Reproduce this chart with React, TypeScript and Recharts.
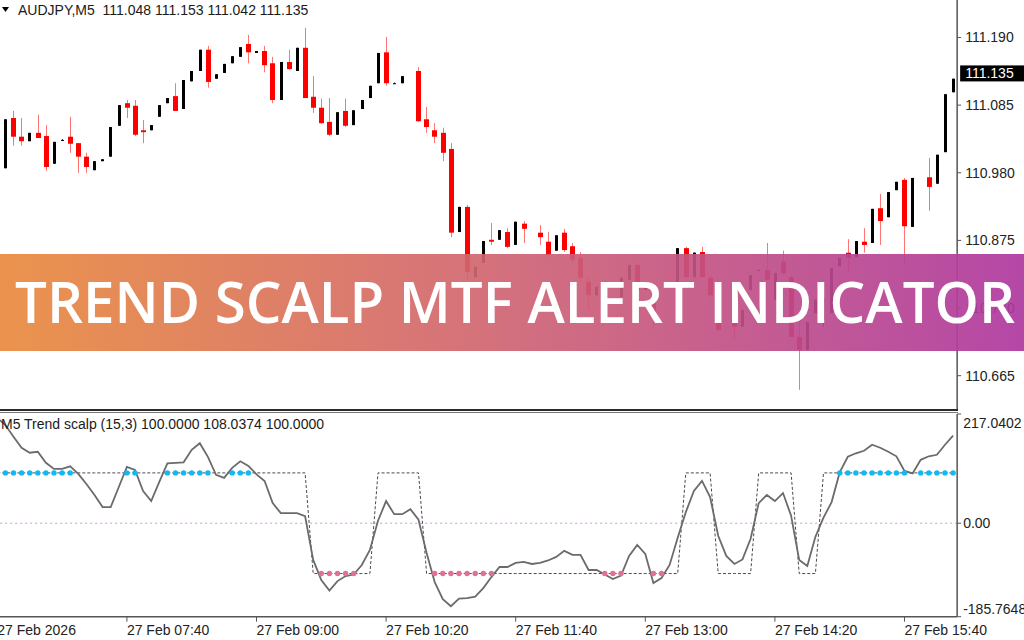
import React from 'react';
import { ComposedChart, Bar, Line, XAxis, YAxis, ReferenceLine } from 'recharts';

// AUDJPY M5 candles, 06:20 .. 16:10 (null = bar not visible)
const opens = [
  110.977, 110.987, 111.065, 111.036, 111.029, 111.042, 111.037, 110.994, 111.031, 111.036,
  111.026, 111.005, 110.984, 110.998, 111.005, 111.053, 111.088, 111.084, 111.046, 111.046,
  111.067, 111.088, 111.099, 111.079, 111.122, 111.138, 111.171, 111.126, 111.135, 111.150,
  111.160, 111.180, 111.166, 111.169, 111.150, 111.093, 111.152, 111.138, 111.174, 111.098,
  111.081, 111.059, 111.039, 111.076, 111.054, 111.079, 111.096, 111.119, 111.167, 111.119,
  111.119, null, 111.138, 111.063, 111.046, 111.042, 111.017, 110.888, 110.927, 110.818,
  110.840, 110.876, 110.876, 110.888, 110.868, 110.901, null, 110.887, 110.873, 110.859,
  110.887, 110.866, 110.848, 110.811, 110.790, 110.811, null, 110.787, 110.814, 110.837,
  110.798, 110.790, null, null, 110.798, 110.863, 110.818, 110.857, 110.817, 110.786,
  null, 110.790, 110.741, 110.798, 110.829, 110.829, 110.783, 110.842, 110.818, 110.725,
  110.705, 110.762, 110.751, 110.762, 110.835, 110.856, 110.849, 110.873, 110.871, 110.925,
  110.911, 110.953, 110.969, 110.896, null, 110.973, 110.963, 111.012, 111.105,
];
const highs = [
  110.992, 111.063, 111.076, 111.065, 111.042, 111.070, 111.054, 111.028, 111.032, 111.067,
  111.026, 111.011, 110.998, 111.001, 111.051, 111.085, 111.093, 111.093, 111.062, 111.054,
  111.085, 111.096, 111.119, 111.124, 111.138, 111.171, 111.177, 111.133, 111.149, 111.161,
  111.175, 111.194, 111.169, 111.177, 111.160, 111.152, 111.171, 111.174, 111.205, 111.130,
  111.095, 111.096, 111.074, 111.095, 111.077, 111.093, 111.115, 111.166, 111.191, 111.120,
  111.130, null, 111.144, 111.082, 111.057, 111.050, 111.026, 110.927, 110.930, 110.834,
  110.874, 110.902, 110.891, 110.894, 110.904, 110.905, null, 110.899, 110.888, 110.883,
  110.893, 110.871, 110.857, 110.818, 110.803, 110.814, null, 110.817, 110.837, 110.840,
  110.809, 110.798, null, null, 110.863, 110.865, 110.856, 110.865, 110.820, 110.789,
  null, 110.793, 110.767, 110.821, 110.830, 110.871, 110.824, 110.859, 110.821, 110.751,
  110.748, 110.783, 110.793, 110.832, 110.848, 110.877, 110.874, 110.894, 110.924, 110.947,
  110.950, 110.966, 110.972, 110.972, null, 111.003, 111.008, 111.102, 111.126,
];
const lows = [
  110.972, 110.987, 111.022, 111.022, 111.029, 111.034, 110.983, 110.994, 111.030, 111.011,
  110.980, 110.980, 110.984, 110.998, 111.005, 111.053, 111.065, 111.037, 111.026, 111.046,
  111.067, 111.088, 111.076, 111.079, 111.122, 111.138, 111.112, 111.126, 111.135, 111.150,
  111.160, 111.150, 111.166, 111.136, 111.088, 111.093, 111.140, 111.138, 111.096, 111.073,
  111.056, 111.037, 111.039, 111.051, 111.054, 111.079, 111.096, 111.119, 111.115, 111.118,
  111.119, null, 111.059, 111.042, 111.026, 110.998, 110.880, 110.888, 110.814, 110.818,
  110.840, 110.868, 110.876, 110.863, 110.868, 110.871, null, 110.868, 110.848, 110.859,
  110.857, 110.842, 110.811, 110.767, 110.790, 110.778, null, 110.787, 110.814, 110.793,
  110.798, 110.736, null, null, 110.798, 110.818, 110.818, 110.818, 110.787, 110.733,
  null, 110.720, 110.741, 110.798, 110.828, 110.814, 110.783, 110.821, 110.725, 110.643,
  110.705, 110.762, 110.741, 110.762, 110.835, 110.826, 110.849, 110.856, 110.871, 110.868,
  110.911, 110.953, 110.840, 110.896, null, 110.921, 110.963, 111.012, 111.105,
];
const closes = [
  110.987, 111.063, 111.036, 111.029, 111.042, 111.034, 110.989, 111.028, 111.031, 111.025,
  111.005, 110.989, 110.998, 111.001, 111.051, 111.085, 111.081, 111.039, 111.043, 111.054,
  111.085, 111.096, 111.076, 111.124, 111.138, 111.171, 111.121, 111.133, 111.149, 111.161,
  111.175, 111.167, 111.169, 111.147, 111.093, 111.152, 111.141, 111.174, 111.096, 111.081,
  111.057, 111.039, 111.074, 111.053, 111.077, 111.093, 111.115, 111.166, 111.119, 111.119,
  111.130, null, 111.060, 111.051, 111.036, 111.011, 110.887, 110.927, 110.826, 110.834,
  110.874, 110.873, 110.891, 110.865, 110.904, 110.893, null, 110.880, 110.852, 110.883,
  110.860, 110.845, 110.817, 110.790, 110.803, 110.783, null, 110.817, 110.837, 110.798,
  110.809, 110.764, null, null, 110.863, 110.818, 110.856, 110.818, 110.790, 110.736,
  null, 110.741, 110.767, 110.821, 110.829, 110.814, 110.824, 110.824, 110.725, 110.705,
  110.748, 110.783, 110.786, 110.832, 110.848, 110.848, 110.874, 110.868, 110.924, 110.905,
  110.950, 110.966, 110.897, 110.972, null, 110.958, 111.008, 111.102, 111.126,
];

// Trend scalp (15,3) main line
const trend = [
  209, 195, 172, 150, 140, 142, 120, 108, 108, 113,
  98, 78, 56, 32, 32, 72, 112, 106, 64, 44,
  82, 119, 120, 121, 146, 159, 132, 96, 90, 110,
  123, 114, 97, 84, 40, 20, 20, 20, 14, -73,
  -113, -134, -115, -105, -102, -83, -53, 5, 44, 18,
  18, 28, 7, -59, -117, -151, -165, -150, -149, -146,
  -129, -107, -87, -87, -79, -77, -81, -79, -74, -67,
  -55, -63, -63, -93, -93, -102, -111, -104, -65, -43,
  -61, -119, -109, -83, -29, 22, 64, 84, 52, -25,
  -65, -81, -72, -31, 40, 56, 44, 60, 15, -73,
  -85, -27, 11, 42, 101, 132, 139, 144, 156, 150,
  142, 133, 104, 99, 126, 133, 136, 156, 174,
];
// dashed trend state line (+100 / -100)
const signal = [
  100, 100, 100, 100, 100, 100, 100, 100, 100, 100,
  100, 100, 100, 100, 100, 100, 100, 100, 100, 100,
  100, 100, 100, 100, 100, 100, 100, 100, 100, 100,
  100, 100, 100, 100, 100, 100, 100, 100, 100, -100,
  -100, -100, -100, -100, -100, -100, -100, 100, 100, 100,
  100, 100, 100, -100, -100, -100, -100, -100, -100, -100,
  -100, -100, -100, -100, -100, -100, -100, -100, -100, -100,
  -100, -100, -100, -100, -100, -100, -100, -100, -100, -100,
  -100, -100, -100, -100, -100, 100, 100, 100, 100, -100,
  -100, -100, -100, -100, 100, 100, 100, 100, 100, -100,
  -100, -100, 100, 100, 100, 100, 100, 100, 100, 100,
  100, 100, 100, 100, 100, 100, 100, 100, 100,
];
const upDots = [1, 2, 3, 4, 5, 6, 7, 8, 9, 16, 17, 21, 22, 23, 24, 25, 26, 29, 30, 31,
  104, 105, 106, 107, 108, 109, 110, 111, 112, 114, 115, 116, 117, 118];
const downDots = [40, 41, 42, 43, 44, 54, 55, 56, 57, 58, 59, 60, 61, 75, 76, 77, 81, 82];

const priceTicks = [111.19, 111.085, 110.98, 110.875, 110.77, 110.665];
const lastPrice = 111.135;
const timeTickIdx = [0, 16, 32, 48, 64, 80, 96, 112];
const timeTickLabels = ['27 Feb 2026', '27 Feb 07:40', '27 Feb 09:00', '27 Feb 10:20',
  '27 Feb 11:40', '27 Feb 13:00', '27 Feb 14:20', '27 Feb 15:40'];
const indTicks = [217.0402, 0, -185.7648];
const indTickLabels = ['217.0402', '0.00', '-185.7648'];

const FONT = '"Liberation Sans", Arial, sans-serif';

function Candle(props: any) {
  const { x, width, y, height, payload } = props;
  if (!payload || payload.open == null || !isFinite(y) || !isFinite(height)) return <g />;
  const { open, high, low, close } = payload;
  const top = Math.min(y, y + height);
  const span = Math.abs(height);
  const yOf = (v: number) => top + ((high - v) / (high - low)) * span;
  const cx = Math.round(x + width / 2) + 0.5;
  const bull = close >= open;
  const bTop = yOf(Math.max(open, close));
  const bH = Math.max(1, yOf(Math.min(open, close)) - bTop);
  if (bull) {
    return (
      <g>
        <line x1={cx} x2={cx} y1={top} y2={top + span} stroke="#000" strokeWidth={1} />
        <rect x={cx - 1.5} y={bTop} width={3} height={bH} fill="#000" />
      </g>
    );
  }
  return (
    <g>
      <line x1={cx} x2={cx} y1={top} y2={top + span} stroke="#ff0000" strokeOpacity={0.55} strokeWidth={1} />
      <rect x={cx - 2.5} y={bTop} width={5} height={bH} fill="#ff0000" />
    </g>
  );
}

function PriceTag(props: any) {
  const vb = props.viewBox;
  if (!vb) return null;
  const x0 = vb.x + vb.width + 3;
  return (
    <g>
      <rect x={x0} y={vb.y - 7.5} width={70} height={16} fill="#000" />
      <text x={x0 + 5} y={vb.y + 5} fill="#fff" fontSize={14} fontFamily={FONT}>
        {lastPrice.toFixed(3)}
      </text>
    </g>
  );
}

function TimeTick(props: any) {
  const { x, y, payload } = props;
  const k = timeTickIdx.indexOf(payload.value);
  return (
    <text x={x} y={y + 11} fill="#222" fontSize={14} fontFamily={FONT} textAnchor="start">
      {timeTickLabels[k]}
    </text>
  );
}

function IndTick(props: any) {
  const { x, y, payload } = props;
  const k = indTicks.indexOf(payload.value);
  const dy = k === 0 ? 14 : k === 2 ? -3 : 5;
  return (
    <text x={x - 2} y={y + dy} fill="#222" fontSize={14} fontFamily={FONT} textAnchor="start">
      {indTickLabels[k]}
    </text>
  );
}

const dotFor = (key: 'up' | 'down', color: string) => (p: any) => {
  const k = `${key}-${p.index}`;
  if (!p.payload || p.payload[key] == null || p.cy == null) return <g key={k} />;
  return <circle key={k} cx={p.cx} cy={p.cy} r={2.7} fill={color} />;
};

export default function App() {
  const rows = opens.map((o, i) => ({
    i,
    open: o,
    high: highs[i],
    low: lows[i],
    close: closes[i],
    trend: trend[i],
    signal: signal[i],
    up: upDots.includes(i) ? 100 : null,
    down: downDots.includes(i) ? -100 : null,
  }));

  return (
    <div style={{ position: 'absolute', left: 0, top: 0, width: 1024, height: 640, overflow: 'hidden', background: '#fff' }}>
      {/* price panel */}
      <div style={{ position: 'absolute', left: -10, top: 0 }}>
        <ComposedChart width={1034} height={411} data={rows} margin={{ top: 0, right: 0, bottom: 2, left: 3.25 }}>
          <XAxis dataKey="i" hide scale="band" />
          <YAxis
            orientation="right"
            width={66.85}
            domain={[110.6133, 111.2482]}
            allowDataOverflow
            ticks={priceTicks}
            interval={0}
            tickFormatter={(v: number) => v.toFixed(3)}
            tick={{ fill: '#222', fontSize: 14, fontFamily: FONT }}
            tickSize={4}
            tickMargin={4}
            axisLine={{ stroke: '#555', strokeWidth: 1.5 }}
            tickLine={{ stroke: '#555' }}
          />
          <Bar
            dataKey={(d: any) => (d.low == null ? null : [d.low, d.high])}
            shape={(p: any) => <Candle {...p} />}
            isAnimationActive={false}
          />
          <ReferenceLine y={lastPrice} stroke="none" label={<PriceTag />} />
        </ComposedChart>
      </div>

      {/* indicator panel */}
      <div style={{ position: 'absolute', left: -10, top: 412 }}>
        <ComposedChart width={1034} height={228} data={rows} margin={{ top: 2, right: 0, bottom: 0, left: 3.25 }}>
          <XAxis
            dataKey="i"
            scale="band"
            ticks={timeTickIdx}
            interval={0}
            height={23.3}
            tick={<TimeTick />}
            tickSize={5}
            tickMargin={2}
            axisLine={{ stroke: '#555', strokeWidth: 1.5 }}
            tickLine={{ stroke: '#555' }}
          />
          <YAxis
            orientation="right"
            width={66.85}
            domain={[-185.7648, 217.0402]}
            allowDataOverflow
            ticks={indTicks}
            interval={0}
            tick={<IndTick />}
            tickSize={4}
            tickMargin={4}
            axisLine={{ stroke: '#555', strokeWidth: 1.5 }}
            tickLine={{ stroke: '#555' }}
          />
          <ReferenceLine y={0} stroke="#e18ae6" strokeDasharray="2 3" />
          <Line type="linear" dataKey="signal" stroke="#4a4a4a" strokeWidth={1} strokeDasharray="3 2" dot={false} isAnimationActive={false} />
          <Line type="linear" dataKey="trend" stroke="#6b6b6b" strokeWidth={1.8} dot={false} isAnimationActive={false} />
          <Line type="linear" dataKey="up" stroke="none" strokeWidth={0} dot={dotFor('up', '#0fb9f5')} isAnimationActive={false} />
          <Line type="linear" dataKey="down" stroke="none" strokeWidth={0} dot={dotFor('down', '#e0709a')} isAnimationActive={false} />
        </ComposedChart>
      </div>

      {/* panel separator */}
      <div style={{ position: 'absolute', left: 0, top: 409, width: 958, height: 1.5, background: '#2a2a2a' }} />
      <div style={{ position: 'absolute', left: 0, top: 411.5, width: 958, height: 1, background: '#777' }} />

      {/* titles */}
      <svg style={{ position: 'absolute', left: 0, top: 0 }} width={420} height={22}>
        <polygon points="2,7 9,7 5.5,12" fill="#000" />
        <text x={18} y={15} fontSize={14} fontFamily={FONT} fill="#1a1a1a" style={{ whiteSpace: 'pre' }}>
          {'AUDJPY,M5  111.048 111.153 111.042 111.135'}
        </text>
      </svg>
      <svg style={{ position: 'absolute', left: 0, top: 414 }} width={420} height={20}>
        <text x={1} y={15} fontSize={14} fontFamily={FONT} fill="#1a1a1a">
          M5 Trend scalp (15,3) 100.0000 108.0374 100.0000
        </text>
      </svg>

      {/* banner */}
      <svg style={{ position: 'absolute', left: 0, top: 253.5 }} width={1024} height={97}>
        <defs>
          <linearGradient id="bannerGrad" x1="0" y1="0" x2="1" y2="0">
            <stop offset="0%" stopColor="#e98a3d" />
            <stop offset="50%" stopColor="#cf6373" />
            <stop offset="100%" stopColor="#ae389f" />
          </linearGradient>
        </defs>
        <rect x={0} y={0} width={1024} height={97} fill="url(#bannerGrad)" opacity={0.92} />
        <text
          x={15}
          y={68.5}
          fontSize={57}
          fontWeight={600}
          fontFamily='"Open Sans", Lato, sans-serif'
          fill="#fff"
          textLength={1000}
          lengthAdjust="spacingAndGlyphs"
        >
          TREND SCALP MTF ALERT INDICATOR
        </text>
      </svg>
    </div>
  );
}
